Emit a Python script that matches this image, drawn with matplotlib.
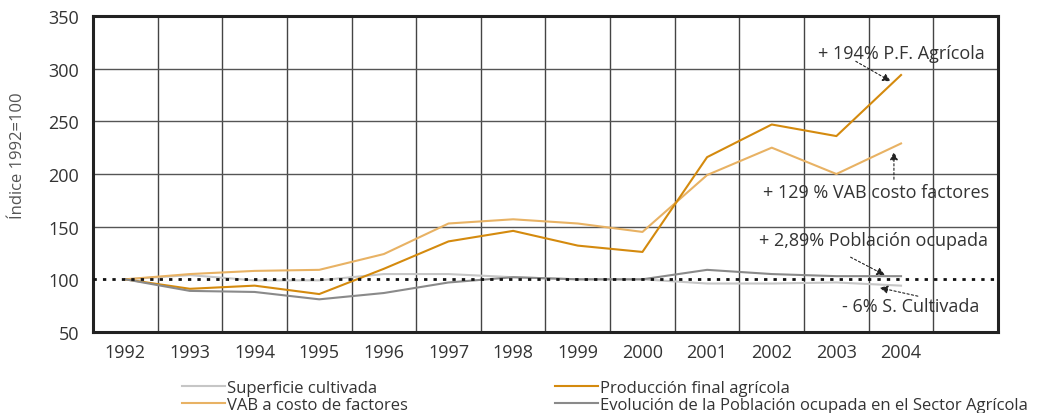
import matplotlib.pyplot as plt
import numpy as np

plt.rcParams["font.family"] = ["Open Sans", "DejaVu Sans"]

years = ["1992", "1993", "1994", "1995", "1996", "1997", "1998",
         "1999", "2000", "2001", "2002", "2003", "2004"]
superficie = [100, 104, 99, 99, 105, 105, 102, 100, 100, 96, 96, 97, 94]
vab = [100, 105, 108, 109, 124, 153, 157, 153, 145, 199, 225, 200, 229]
produccion = [100, 91, 94, 86, 110, 136, 146, 132, 126, 216, 247, 236, 294]
poblacion = [100, 89, 88, 81, 87, 97, 102, 100, 100, 109, 105, 103, 103]

C_SUP = "#c6c6c6"
C_VAB = "#e8b264"
C_PROD = "#d48a0e"
C_POB = "#8a8a8a"
TXT = "#333333"

fig = plt.figure(figsize=(10.41, 4.14), dpi=100)
ax = fig.add_axes([0.0893, 0.1957, 0.8694, 0.7632])

x = np.arange(len(years))
h1, = ax.plot(x, superficie, color=C_SUP, lw=1.5, label="Superficie cultivada")
h2, = ax.plot(x, vab, color=C_VAB, lw=1.5, label="VAB a costo de factores")
h3, = ax.plot(x, produccion, color=C_PROD, lw=1.5, label="Producción final agrícola")
h4, = ax.plot(x, poblacion, color=C_POB, lw=1.5,
              label="Evolución de la Población ocupada en el Sector Agrícola")

# reference line at the base index
ax.axhline(100, color="#111111", lw=2, ls=(0, (1.2, 2.2)), zorder=3)

ax.set_xlim(-0.5, 13.5)
ax.set_ylim(50, 350)
ax.set_xticks(x)
ax.set_xticklabels(years)
ax.set_xticks(np.arange(-0.5, 14, 1), minor=True)
ax.set_yticks(np.arange(50, 351, 50))
ax.tick_params(which="both", length=0, labelsize=13, colors=TXT, pad=8)
ax.tick_params(axis="y", pad=10)
ax.grid(which="minor", axis="x", color="#444444", lw=1)
ax.grid(which="major", axis="y", color="#555555", lw=1)
ax.yaxis.get_gridlines()[1].set_visible(False)
ax.set_axisbelow(True)
for s in ax.spines.values():
    s.set_linewidth(2.2)
    s.set_color("#222222")

fig.text(0.017, 0.625, "Índice 1992=100", rotation=90, ha="center", va="center",
         fontsize=12, color="#555555")

arrow = dict(arrowstyle="-|>", ls=(0, (2, 2)), color="#222222", lw=0.8,
             mutation_scale=12, shrinkA=0, shrinkB=0)
ax.text(12.0, 315, "+ 194% P.F. Agrícola", ha="center", va="center", fontsize=13, color=TXT)
ax.annotate("", xy=(11.84, 288), xytext=(11.3, 307), arrowprops=arrow)
ax.text(11.61, 183, "+ 129 % VAB costo factores", ha="center", va="center", fontsize=13, color=TXT)
ax.annotate("", xy=(11.89, 221), xytext=(11.89, 195), arrowprops=arrow)
ax.text(11.58, 137, "+ 2,89% Población ocupada", ha="center", va="center", fontsize=13, color=TXT)
ax.annotate("", xy=(11.75, 104), xytext=(11.22, 121), arrowprops=arrow)
ax.text(12.15, 75, "- 6% S. Cultivada", ha="center", va="center", fontsize=13, color=TXT)
ax.annotate("", xy=(11.67, 92), xytext=(12.26, 84), arrowprops=arrow)

fig.legend(handles=[h1, h2, h3, h4], ncol=2, loc="lower left",
           bbox_to_anchor=(0.160, -0.036), frameon=False, fontsize=12,
           handlelength=2.6, handletextpad=0.1, columnspacing=8.85,
           labelspacing=0.05, labelcolor=TXT)

fig.savefig("out.png", dpi=100)
